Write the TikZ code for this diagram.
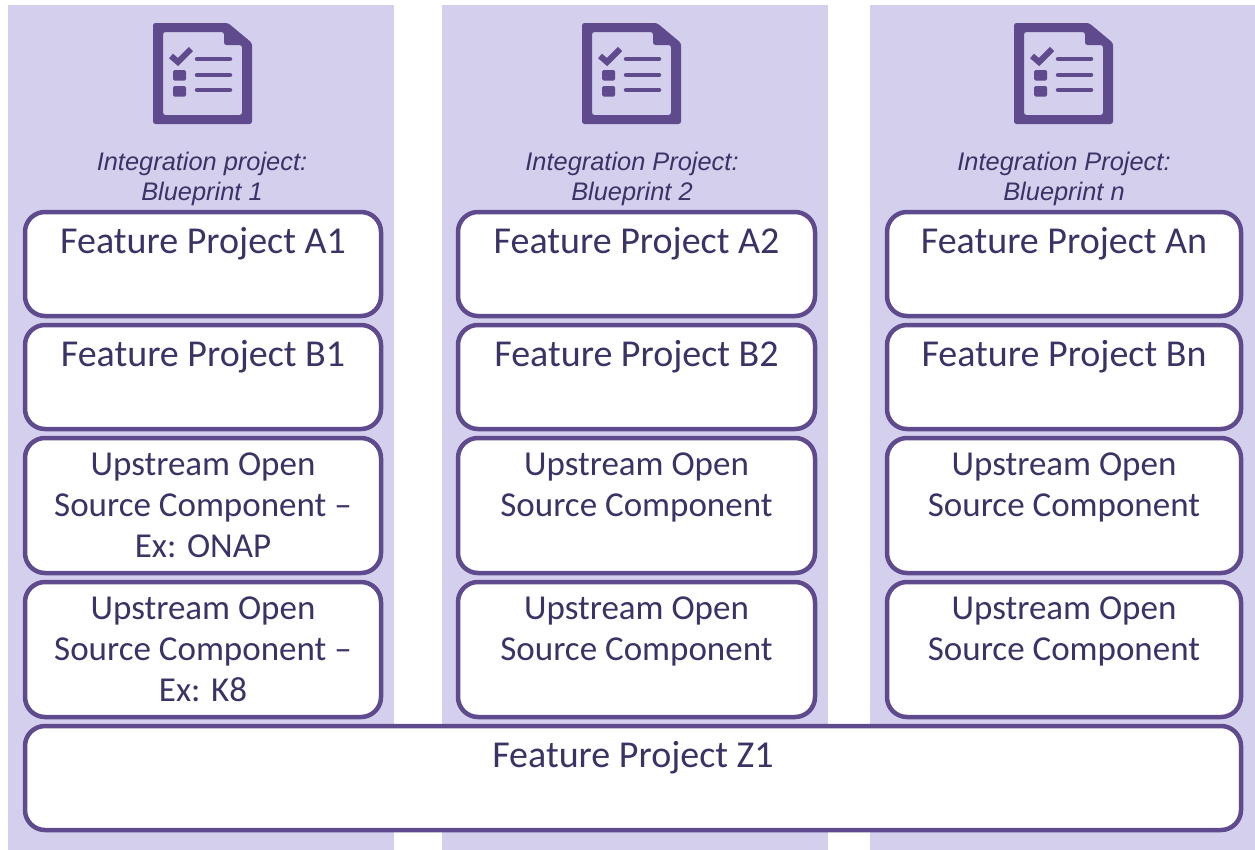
\documentclass[tikz,border=0pt]{standalone}
\usepackage{fontspec}
\setmainfont{Carlito}
\newfontfamily\captionfont{Liberation Sans}
\definecolor{panelfill}{HTML}{D3CFEC}
\definecolor{boxline}{HTML}{5E4A8C}
\definecolor{boxtext}{HTML}{3C3266}

\begin{document}
\begin{tikzpicture}[x=1pt,y=-1pt]
\tikzset{
  panel/.style={fill=panelfill,anchor=north west,inner sep=0,outer sep=0,minimum width=386pt,minimum height=845pt},
  featbox/.style={draw=boxline,fill=white,line width=4.5pt,rounded corners=20pt,anchor=north west,inner sep=0,outer sep=0,
    minimum width=356pt,align=center,text=boxtext,font=\fontsize{38}{41}\selectfont},
  smallbox/.style={featbox,minimum height=104pt},
  tallbox/.style={featbox,minimum height=135pt,font=\fontsize{35}{41}\selectfont},
  projcaption/.style={text=boxtext,align=center,inner sep=0,font=\captionfont\itshape\fontsize{25.4}{30}\selectfont},
  iconfill/.style={fill=boxline,draw=none},
  iconline/.style={draw=boxline,line width=4.5pt,line cap=round},
  checklist/.pic={
    \path[iconfill,even odd rule,rounded corners=2.5pt] (0,0) -- (75,0) -- (99,20) -- (99,101) -- (0,101) -- cycle
      (10,9) -- (71,9) -- (71,22) -- (89,22) -- (89,92) -- (10,92) -- cycle;
    \draw[boxline,line width=6pt] (18,33) -- (25,39) -- (38,26);
    \foreach \iy in {47,63} \path[iconfill,rounded corners=1.5pt] (20,\iy) rectangle ++(13,10.5);
    \foreach \iy in {36,52,67} \draw[iconline] (44,\iy) -- (77,\iy);
  }
}
\useasboundingbox (0,0) rectangle (1255,849);
\fill[white] (0,0) rectangle (1255,849);
% columns
\foreach \col/\px/\tx/\ix/\head in {
  1/8/202/153/{Integration project:\\Blueprint 1},
  2/442/632/582/{Integration Project:\\Blueprint 2},
  3/870/1064/1014/{Integration Project:\\Blueprint n}}{
  \node[panel] (panel\col) at (\px,4.5) {};
  \pic at (\ix,23) {checklist};
  \node[projcaption] (head\col) at (\tx,179) {\head};
}
% feature boxes
\foreach \col/\bx/\bw/\tag in {1/25/356/1,2/458/357/2,3/887/354/n}{
  \node[smallbox,minimum width=\bw pt] (a\col) at (\bx,212) {Feature Project A\tag\\\phantom{Ag}};
  \node[smallbox,minimum width=\bw pt] (b\col) at (\bx,325) {Feature Project B\tag\\\phantom{Ag}};
}
\node[tallbox] (c1) at (25,438) {Upstream Open\\Source Component --\\Ex: ONAP};
\node[tallbox] (d1) at (25,582) {Upstream Open\\Source Component --\\Ex: K8};
\foreach \col/\bx/\bw in {2/458/357,3/887/354}{
  \node[tallbox,minimum width=\bw pt] (c\col) at (\bx,438) {Upstream Open\\Source Component\\\phantom{Ex}};
  \node[tallbox,minimum width=\bw pt] (d\col) at (\bx,582) {Upstream Open\\Source Component\\\phantom{Ex}};
}
\node[smallbox,minimum width=1216pt] (z1) at (25,726) {Feature Project Z1\\\phantom{Ag}};
\end{tikzpicture}
\end{document}
